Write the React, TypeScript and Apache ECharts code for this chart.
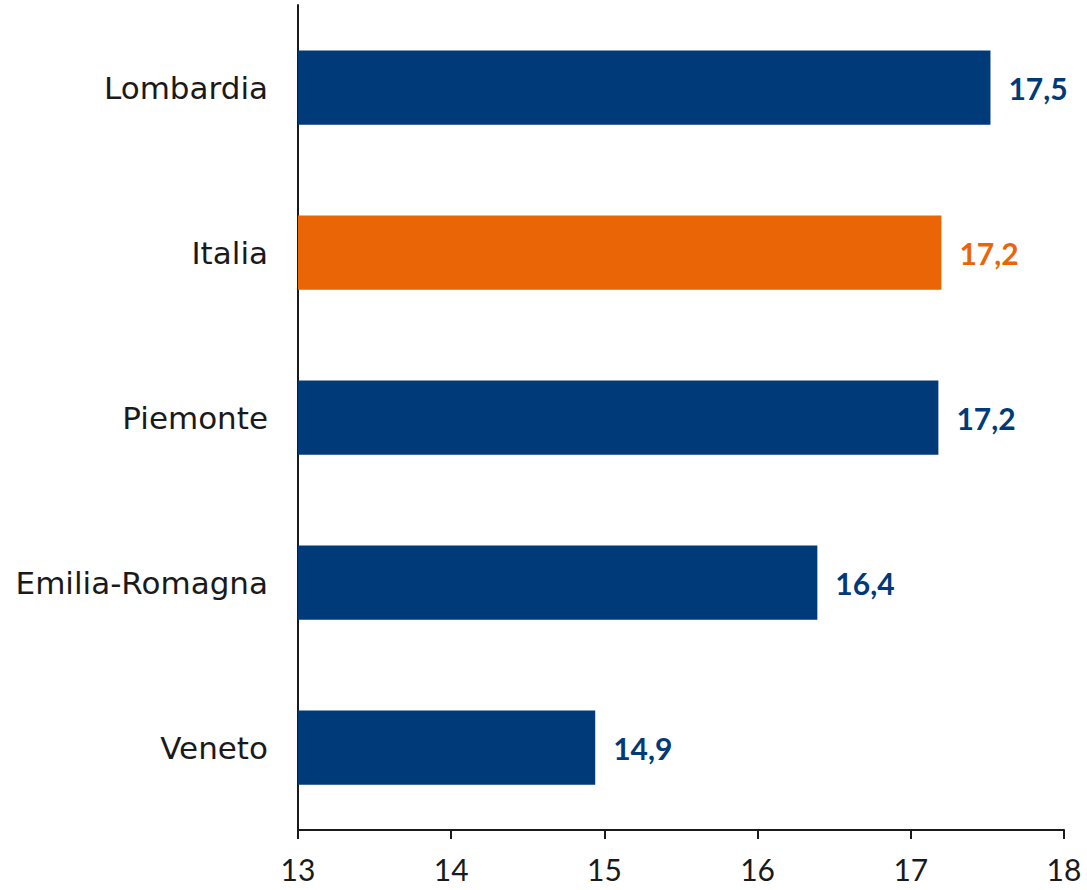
import React, { useEffect, useRef } from "react";
import * as echarts from "echarts";

const categories = ["Lombardia", "Italia", "Piemonte", "Emilia-Romagna", "Veneto"];
const values = [17.52, 17.2, 17.18, 16.39, 14.94];
const highlight = "Italia";
const xTicks = [13, 14, 15, 16, 17, 18];

const BLUE = "#003A78";
const ORANGE = "#EA6506";

export default function App() {
  const ref = useRef<HTMLDivElement>(null);
  useEffect(() => {
    const chart = echarts.init(ref.current!, null, { renderer: "svg" });
    chart.setOption({
      animation: false,
      grid: { left: 298, right: 23, top: 5, bottom: 60, containLabel: false },
      xAxis: {
        type: "value",
        min: xTicks[0],
        max: xTicks[xTicks.length - 1],
        interval: 1,
        splitLine: { show: false },
        axisLine: { show: true, lineStyle: { color: "#1a1a1a", width: 2 } },
        axisTick: { show: true, length: 9, lineStyle: { color: "#1a1a1a", width: 2 } },
        axisLabel: { color: "#1a1a1a", fontSize: 30, fontFamily: "Lato", margin: 24 },
      },
      yAxis: {
        type: "category",
        inverse: true,
        data: categories,
        axisLine: { show: true, lineStyle: { color: "#1a1a1a", width: 2 } },
        axisTick: { show: false },
        axisLabel: { color: "#1a1a1a", fontSize: 31, fontFamily: "DejaVu Sans", margin: 30 },
      },
      series: [
        {
          type: "bar",
          barCategoryGap: "55%",
          data: categories.map((c, i) => {
            const col = c === highlight ? ORANGE : BLUE;
            return {
              value: values[i],
              itemStyle: { color: col },
              label: { color: col },
            };
          }),
          label: {
            show: true,
            position: "right",
            distance: 18,
            fontSize: 30,
            fontWeight: "bold",
            fontFamily: "Lato",
            formatter: (p: any) => p.value.toFixed(1).replace(".", ","),
          },
        },
      ],
    });
    return () => chart.dispose();
  }, []);
  return (
    <div
      ref={ref}
      style={{ position: "fixed", left: 0, top: 0, width: 1087, height: 890, background: "#fff" }}
    />
  );
}
